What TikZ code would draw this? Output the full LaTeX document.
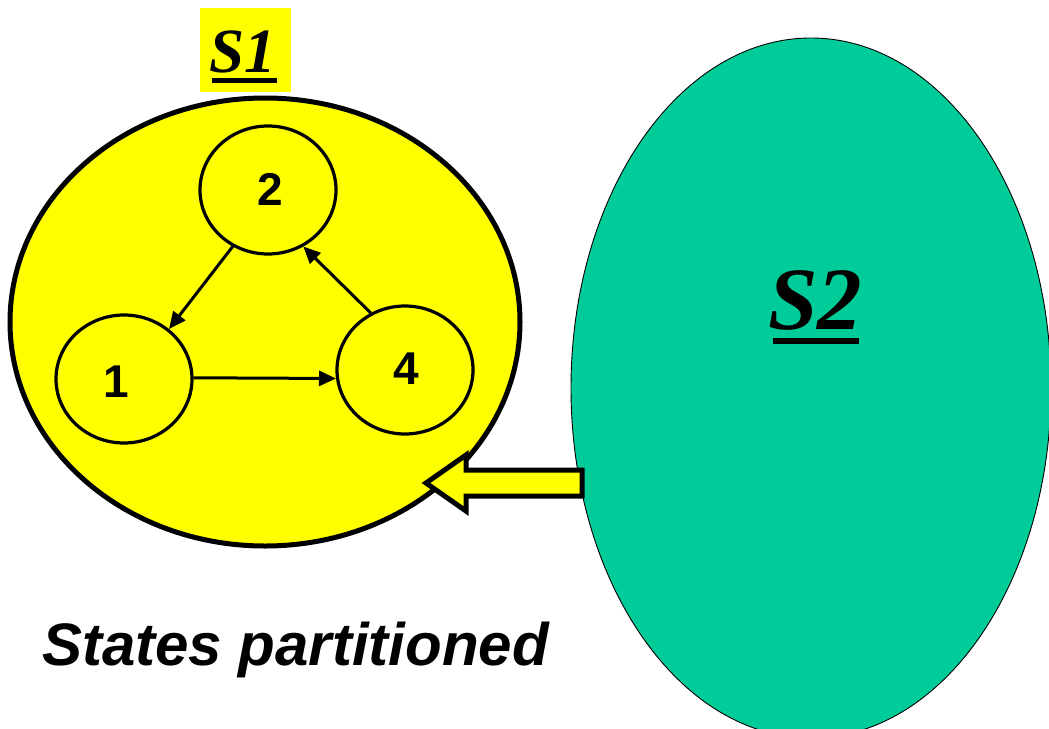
\documentclass[tikz,border=0pt]{standalone}
\usepackage{fontspec}
\usetikzlibrary{shapes.geometric,arrows.meta}
\newfontfamily\sansfnt{Liberation Sans}
\newfontfamily\seriffnt{Liberation Serif}
\definecolor{slideyellow}{HTML}{FFFF00}
\definecolor{slidegreen}{HTML}{00CC99}
\tikzset{
  statenode/.style={ellipse, draw=black, line width=3.2pt, fill=slideyellow, minimum width=136pt, minimum height=128pt, inner sep=0pt},
  digit/.style={inner sep=0pt, font=\sansfnt\bfseries\fontsize{46}{50}\selectfont},
  trans/.style={line width=3pt, -{Triangle[length=17pt,width=15pt]}},
  setlabel/.style={inner sep=0pt, anchor=base, font=\seriffnt\bfseries\itshape},
}
\begin{document}
\begin{tikzpicture}[x=1pt,y=-1pt]
\useasboundingbox (0,0) rectangle (1049,728);
% class S1
\draw[line width=5pt, fill=slideyellow] (265,322) ellipse [x radius=255, y radius=224];
% class S2
\draw[line width=0.9pt, fill=slidegreen] (811,388) ellipse [x radius=240, y radius=350];
% S1 label
\fill[slideyellow] (200,8) rectangle (291,92);
\node[setlabel, font=\seriffnt\bfseries\itshape\fontsize{63}{70}\selectfont] (s1) at (243,72) {S1};
\fill (212,78) rectangle (277,83);
% S2 label
\node[setlabel, font=\seriffnt\bfseries\itshape\fontsize{89}{95}\selectfont] (s2) at (815,329) {S2};
\fill (773,338) rectangle (859,344);
% states
\node[statenode] (n2) at (268,190) {};
\node[statenode] (n1) at (124,379) {};
\node[statenode] (n4) at (405,370) {};
\node[digit] (t2) at (270,189) {2};
\node[digit] (t1) at (116,382) {1};
\node[digit] (t4) at (406,369) {4};
% transitions
\draw[trans] (n2.238) -- (n1.48);
\draw[trans] (n4.121) -- (n2.-58);
\draw[trans] (n1.1) -- (n4.187);
% block arrow from S2 to S1
\coordinate (tip) at (426,483);
\coordinate (tail) at (582,483);
\draw[line width=5pt, fill=slideyellow, line join=miter]
  (tip) -- (466,455) -- (466,470) -- (tail |- 0,470) -- (tail |- 0,496) -- (466,496) -- (466,511) -- cycle;
% caption
\node[inner sep=0pt, anchor=base west, font=\sansfnt\bfseries\itshape\fontsize{60}{72}\selectfont] (cap) at (42,665) {States partitioned};
\end{tikzpicture}
\end{document}
